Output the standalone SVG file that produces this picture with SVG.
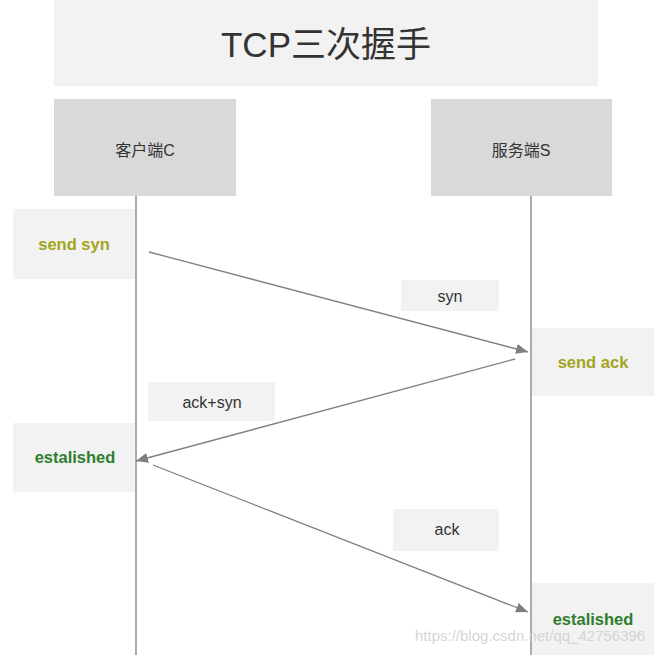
<svg xmlns="http://www.w3.org/2000/svg" width="668" height="655" viewBox="0 0 668 655">
<style>
.title{font-family:"Liberation Sans","Noto Sans CJK SC",sans-serif;font-size:35px;fill:#333;text-anchor:middle}
.hdr{font-family:"Liberation Sans","Noto Sans CJK SC",sans-serif;font-size:16px;fill:#333;text-anchor:middle}
.lbl{font-family:"Liberation Sans",sans-serif;font-size:16px;fill:#333;text-anchor:middle}
.st{font-family:"Liberation Sans",sans-serif;font-size:16.5px;font-weight:bold;text-anchor:middle}
.olive{fill:#a4a41f}
.green{fill:#2f7d2f}
.light{fill:#f2f2f2}
.head{fill:#d9d9d9}
.life{stroke:#7f7f7f;stroke-width:1.3;fill:none}
.msg{stroke:#7f7f7f;stroke-width:1.3;fill:none;marker-end:url(#arr)}
.wm{font-family:"Liberation Sans",sans-serif;font-size:15px;fill:#d0d0d0;fill-opacity:0.9}
</style>
<defs>
<marker id="arr" viewBox="0 0 12 10" refX="12" refY="5" markerWidth="12" markerHeight="10" markerUnits="userSpaceOnUse" orient="auto">
<path d="M0,0 L12,5 L0,10 z" fill="#7f7f7f"/>
</marker>
</defs>
<rect width="668" height="655" fill="#fff"/>
<g id="title"><rect class="light" x="54" y="0" width="544" height="86"/><text class="title" x="326" y="57">TCP三次握手</text></g>
<g id="client"><rect class="head" x="54" y="99" width="182" height="97"/><text class="hdr" x="145" y="156">客户端C</text></g>
<g id="server"><rect class="head" x="431" y="99" width="181" height="97"/><text class="hdr" x="521" y="156">服务端S</text></g>
<g id="send-syn"><rect class="light" x="13" y="209" width="122" height="70"/><text class="st olive" x="74" y="250">send syn</text></g>
<g id="send-ack"><rect class="light" x="532" y="328" width="122" height="68"/><text class="st olive" x="593" y="368">send ack</text></g>
<g id="est-client"><rect class="light" x="13" y="423" width="122" height="69"/><text class="st green" x="75" y="463">estalished</text></g>
<g id="est-server"><rect class="light" x="532" y="583" width="122" height="72"/><text class="st green" x="593" y="625">estalished</text></g>
<g id="label-syn"><rect class="light" x="401" y="280" width="98" height="31"/><text class="lbl" x="450" y="302">syn</text></g>
<g id="label-acksyn"><rect class="light" x="148" y="382" width="127" height="39"/><text class="lbl" x="212" y="408">ack+syn</text></g>
<g id="label-ack"><rect class="light" x="393" y="509" width="106" height="42"/><text class="lbl" x="447" y="535">ack</text></g>
<g id="connectors">
<line class="life" x1="136" y1="196" x2="136" y2="655"/>
<line class="life" x1="531" y1="196" x2="531" y2="655"/>
<line class="msg" x1="149" y1="252" x2="528" y2="352"/>
<line class="msg" x1="515" y1="359" x2="136" y2="461"/>
<line class="msg" x1="153" y1="465" x2="528" y2="612"/>
</g>
<text class="wm" x="415" y="641">https://blog.csdn.net/qq_42756396</text>
</svg>
